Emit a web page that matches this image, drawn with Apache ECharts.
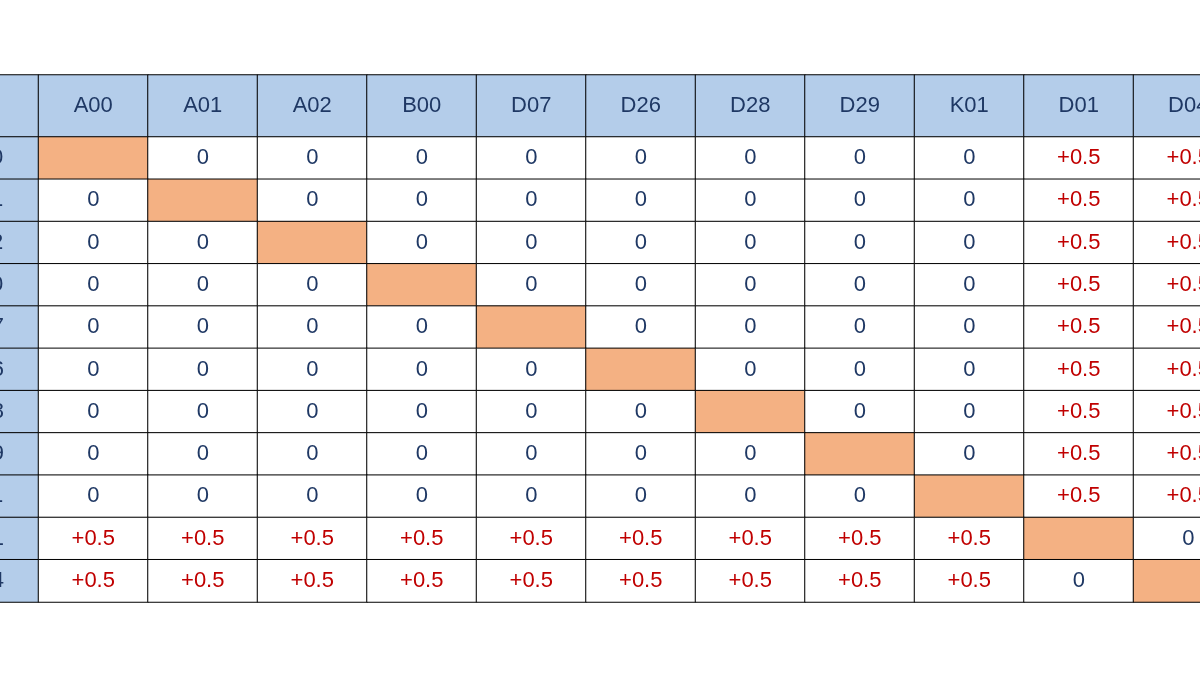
<!DOCTYPE html>
<html><head><meta charset="utf-8">
<script src="https://cdn.jsdelivr.net/npm/echarts@6/dist/echarts.min.js"></script>
<style>html,body{margin:0;background:#fff;overflow:hidden;width:1200px;height:675px}#c{position:absolute;left:-71px;top:0;width:1314px;height:675px}</style>
</head><body><div id="c"></div>
<script>
const codes = ['A00','A01','A02','B00','D07','D26','D28','D29','K01','D01','D04'];
// matrix[row][col]; null = diagonal (highlighted cell)
const matrix = [
 [null,0,0,0,0,0,0,0,0,0.5,0.5],
 [0,null,0,0,0,0,0,0,0,0.5,0.5],
 [0,0,null,0,0,0,0,0,0,0.5,0.5],
 [0,0,0,null,0,0,0,0,0,0.5,0.5],
 [0,0,0,0,null,0,0,0,0,0.5,0.5],
 [0,0,0,0,0,null,0,0,0,0.5,0.5],
 [0,0,0,0,0,0,null,0,0,0.5,0.5],
 [0,0,0,0,0,0,0,null,0,0.5,0.5],
 [0,0,0,0,0,0,0,0,null,0.5,0.5],
 [0.5,0.5,0.5,0.5,0.5,0.5,0.5,0.5,0.5,null,0],
 [0.5,0.5,0.5,0.5,0.5,0.5,0.5,0.5,0.5,0,null]
];
const HDR='#b4cdea', DIAG='#f4b183', NAVY='#1f3864', RED='#c00000';
const xCats = ['hdr'].concat(codes);
const font = {fontFamily:'Liberation Sans', fontSize:22};
const headerData = [], bodyData = [];
headerData.push({value:['hdr','h',0], itemStyle:{color:HDR}, label:{formatter:''}});
codes.forEach(c=>headerData.push({value:[c,'h',0], itemStyle:{color:HDR}, label:{formatter:c, color:NAVY}}));
codes.forEach((r,i)=>{
  bodyData.push({value:['hdr',r,0], itemStyle:{color:HDR}, label:{formatter:r, color:NAVY}});
  codes.forEach((c,j)=>{
    const v = matrix[i][j];
    if (v===null) bodyData.push({value:[c,r,0], itemStyle:{color:DIAG}, label:{formatter:''}});
    else bodyData.push({value:[c,r,v], itemStyle:{color:'#fff'}, label:{formatter: v===0?'0':'+0.5', color: v===0?NAVY:RED}});
  });
});
const axX = i=>({type:'category', data:xCats, gridIndex:i, show:false});
const chart = echarts.init(document.getElementById('c'));
chart.setOption({
  animation:false,
  grid:[{left:0, width:1314, top:75, height:62},{left:0, width:1314, top:137, height:465}],
  xAxis:[axX(0),axX(1)],
  yAxis:[{type:'category', data:['h'], gridIndex:0, show:false},
         {type:'category', data:codes, gridIndex:1, inverse:true, show:false}],
  series:[
    {type:'heatmap', xAxisIndex:0, yAxisIndex:0, data:headerData,
     itemStyle:{borderColor:'#000', borderWidth:1}, label:{show:true, ...font}},
    {type:'heatmap', xAxisIndex:1, yAxisIndex:1, data:bodyData,
     itemStyle:{borderColor:'#000', borderWidth:1}, label:{show:true, ...font}}
  ]
});
</script></body></html>
